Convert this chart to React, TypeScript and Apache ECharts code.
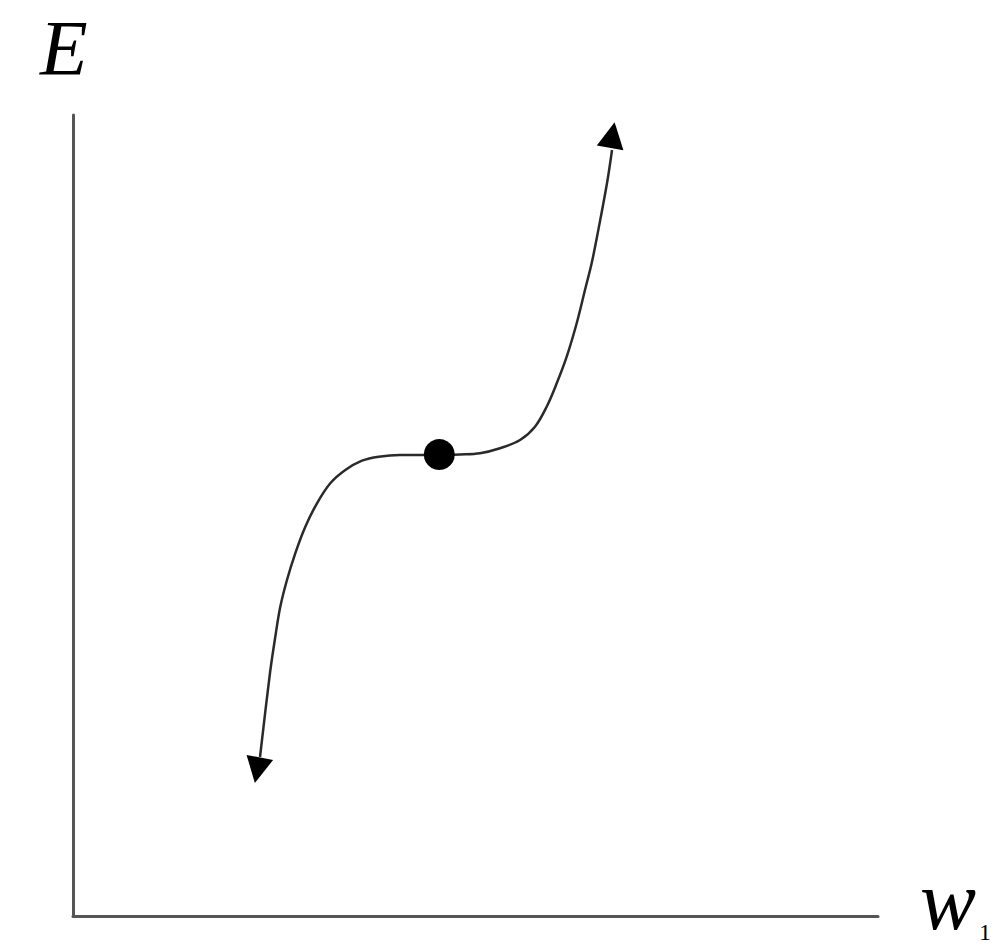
import React, { useEffect, useRef } from "react";
import * as echarts from "echarts";

// Curve samples (abstract 0-100 units on both axes)
const curveX = [23.23, 24.47, 25.13, 25.75, 26.58, 27.61, 28.86, 30.31, 31.96, 33.83, 35.90, 37.98, 40.62, 43.48, 45.47, 48.07, 50.56, 53.04, 55.53, 57.39, 58.84, 60.09, 61.33, 62.57, 63.60, 64.43, 65.09, 66.34, 66.96];
const curveY = [19.85, 30.34, 34.87, 38.61, 41.95, 45.28, 48.60, 51.52, 54.02, 55.68, 56.84, 57.34, 57.55, 57.55, 57.55, 57.62, 57.77, 58.39, 59.43, 61.09, 63.58, 66.50, 69.83, 74.00, 78.15, 81.49, 84.77, 91.51, 95.63];

// Arrow heads at the curve ends
const arrowX = [22.9, 67.0];
const arrowY = [18.2, 97.5];
const arrowRotate = [169, -10];

// Inflection point
const dotX = [45.5];
const dotY = [57.6];

const axisMin = 0;
const axisMax = 100;

export default function App() {
  const ref = useRef<HTMLDivElement>(null);
  useEffect(() => {
    if (!ref.current) return;
    const chart = echarts.init(ref.current, null, { renderer: "svg" });
    const axisCommon = {
      type: "value",
      min: axisMin,
      max: axisMax,
      axisLine: { show: true, lineStyle: { color: "#555", width: 3 } },
      axisTick: { show: false },
      axisLabel: { show: false },
      splitLine: { show: false },
    };
    chart.setOption({
      animation: false,
      backgroundColor: "#fff",
      grid: { left: 73, right: 116, top: 115, bottom: 36, containLabel: false },
      xAxis: { ...axisCommon },
      yAxis: { ...axisCommon },
      series: [
        {
          type: "line",
          data: curveX.map((x, i) => [x, curveY[i]]),
          smooth: 0.35,
          symbol: "none",
          lineStyle: { color: "#2a2a2a", width: 2.5 },
          z: 2,
        },
        {
          type: "scatter",
          data: arrowX.map((x, i) => ({ value: [x, arrowY[i]], symbolRotate: arrowRotate[i] })),
          symbol: "triangle",
          symbolSize: [27, 26],
          itemStyle: { color: "#000", opacity: 1 },
          z: 3,
        },
        {
          type: "scatter",
          data: dotX.map((x, i) => [x, dotY[i]]),
          symbol: "circle",
          symbolSize: 31,
          itemStyle: { color: "#000", opacity: 1 },
          z: 4,
        },
      ],
      graphic: [
        {
          type: "text",
          left: 40,
          top: 8,
          style: {
            text: "E",
            font: "italic 78px 'Liberation Serif', 'DejaVu Serif', serif",
            fill: "#000",
          },
        },
        {
          type: "text",
          left: 920,
          top: 858,
          style: {
            text: "w",
            font: "italic 84px 'Liberation Serif', 'DejaVu Serif', serif",
            fill: "#000",
          },
        },
        {
          type: "text",
          left: 979,
          top: 920,
          style: {
            text: "1",
            font: "24px 'Liberation Serif', 'DejaVu Serif', serif",
            fill: "#000",
          },
        },
      ],
    });
    return () => chart.dispose();
  }, []);
  return (
    <div
      ref={ref}
      style={{ position: "fixed", left: 0, top: 0, width: 994, height: 952, background: "#fff" }}
    />
  );
}
